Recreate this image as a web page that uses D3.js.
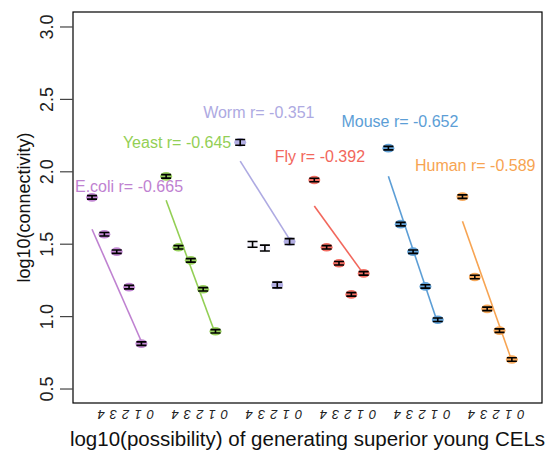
<!DOCTYPE html>
<html>
<head>
<meta charset="utf-8">
<script src="https://cdn.jsdelivr.net/npm/d3@7"></script>
<style>
  body { margin: 0; background: #fff; }
  text { font-family: "Liberation Sans", Arial, sans-serif; }
</style>
</head>
<body>
<div id="chart"></div>
<script>
const species = ["E.coli", "Yeast", "Worm", "Fly", "Mouse", "Human"];
const rValues = ["-0.665", "-0.645", "-0.351", "-0.392", "-0.652", "-0.589"];
const colors = ["#bf82d1", "#93cf55", "#aeaae2", "#f2675c", "#5c9ed6", "#f7a452"];

// mean log10(connectivity) of the five classes in each species
const ecoli = [1.82, 1.565, 1.445, 1.2, 0.81];
const yeast = [1.965, 1.475, 1.385, 1.185, 0.895];
const worm = [2.2, 1.495, 1.47, 1.215, 1.515];
const fly = [1.94, 1.475, 1.365, 1.15, 1.295];
const mouse = [2.16, 1.635, 1.445, 1.205, 0.975];
const human = [1.825, 1.27, 1.05, 0.9, 0.7];
const means = [ecoli, yeast, worm, fly, mouse, human];
const stdErr = [0.012, 0.012, 0.02, 0.012, 0.012, 0.012];

// fitted regression line, value at first and last class
const fitStart = [1.6, 1.8, 2.07, 1.76, 1.965, 1.655];
const fitEnd = [0.825, 0.875, 1.53, 1.29, 0.95, 0.69];

// annotation anchor (class index, value)
const labelX = [-1.38, 2.5, 9.0, 14.8, 20.2, 26.15];
const labelY = [1.855, 2.16, 2.37, 2.065, 2.305, 2.005];

const tickLabels = ["4", "3", "2", "1", "0"];
const yTicks = [0.5, 1.0, 1.5, 2.0, 2.5, 3.0];

const width = 555;
const height = 454;
const plotL = 73, plotR = 542, plotT = 12, plotB = 403;

const svg = d3.select("#chart").append("svg")
  .attr("width", width)
  .attr("height", height);

const x = d3.scaleLinear().domain([-1.54, 36.44]).range([plotL, plotR]);
const y = d3.scaleLinear().domain([0.4, 3.1]).range([plotB, plotT]);

const pos = (g, i) => g * 6 + i;

// box
svg.append("rect")
  .attr("x", plotL).attr("y", plotT)
  .attr("width", plotR - plotL).attr("height", plotB - plotT)
  .attr("fill", "none").attr("stroke", "#000").attr("stroke-width", 1.2);

// y axis
const yAxis = d3.axisLeft(y).tickValues(yTicks).tickFormat(d3.format(".1f")).tickSize(13);
const gy = svg.append("g").attr("transform", `translate(${plotL},0)`).call(yAxis);
gy.select(".domain").remove();
gy.selectAll(".tick line").attr("stroke", "#444").attr("stroke-width", 1.2);
gy.selectAll(".tick text")
  .attr("font-size", 18).attr("fill", "#222")
  .attr("transform", "rotate(-90)")
  .attr("x", 0).attr("y", -20).attr("dy", "0")
  .attr("text-anchor", "middle");

// x tick labels under each class
species.forEach((s, g) => {
  tickLabels.forEach((t, i) => {
    const cx = x(pos(g, i)) + 9;
    svg.append("text")
      .attr("transform", `translate(${cx},${410}) rotate(180)`)
      .attr("text-anchor", "middle")
      .attr("font-size", 13).attr("fill", "#222")
      .attr("font-style", "italic")
      .text(t);
  });
});

// axis titles
svg.append("text")
  .attr("x", (plotL + plotR) / 2).attr("y", 446)
  .attr("text-anchor", "middle").attr("font-size", 20.5).attr("fill", "#111")
  .text("log10(possibility) of generating superior young CELs");

svg.append("text")
  .attr("transform", `translate(30,${(plotT + plotB) / 2}) rotate(-90)`)
  .attr("text-anchor", "middle").attr("font-size", 18).attr("fill", "#111")
  .text("log10(connectivity)");

// groups
species.forEach((s, g) => {
  const c = colors[g];
  const grp = svg.append("g");

  grp.append("line")
    .attr("x1", x(pos(g, 0))).attr("y1", y(fitStart[g]))
    .attr("x2", x(pos(g, 4))).attr("y2", y(fitEnd[g]))
    .attr("stroke", c).attr("stroke-width", 1.6);

  grp.selectAll("ellipse")
    .data(means[g])
    .enter()
    .append("ellipse")
    .attr("cx", (d, i) => x(pos(g, i)))
    .attr("cy", (d) => y(d))
    .attr("rx", 6).attr("ry", 4.3)
    .attr("fill", c)
    .attr("opacity", (d, i) => (g === 2 && (i === 1 || i === 2)) ? 0.15 : 0.95);

  const e = stdErr[g];
  means[g].forEach((d, i) => {
    const cx = x(pos(g, i));
    const y1 = y(d + e), y2 = y(d - e);
    grp.append("path")
      .attr("d", `M${cx - 5},${y1}H${cx + 5}M${cx - 5},${y2}H${cx + 5}M${cx},${y1}V${y2}`)
      .attr("stroke", "#000").attr("stroke-width", 1.6).attr("fill", "none");
  });

  grp.append("text")
    .attr("x", x(labelX[g])).attr("y", y(labelY[g]))
    .attr("font-size", 16).attr("fill", c)
    .text(`${s} r= ${rValues[g]}`);
});
</script>
</body>
</html>
